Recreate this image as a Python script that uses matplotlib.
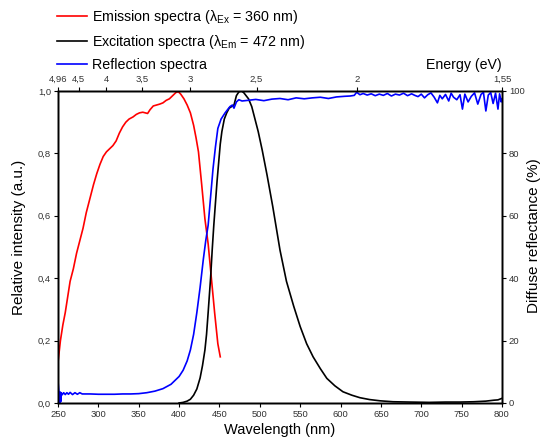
import numpy as np
import matplotlib.pyplot as plt

plt.rcParams['font.family'] = ['Liberation Sans', 'DejaVu Sans']
plt.rcParams['mathtext.fontset'] = 'custom'
plt.rcParams['mathtext.rm'] = 'Liberation Sans'

# emission spectrum (lambda_ex = 360 nm), relative intensity
em_wl = [250, 253, 256, 259, 262, 265, 269, 273, 277, 281, 285, 290, 294, 298, 302,
         306, 310, 314, 318, 322, 326, 330, 334, 338, 343, 347, 351, 355, 358, 361,
         364, 368, 372, 376, 380, 384, 388, 392, 396, 399, 402, 406, 410, 414, 418,
         421, 424, 428, 432, 436, 440, 444, 448, 451]
em_int = [0.13, 0.20, 0.25, 0.29, 0.34, 0.39, 0.43, 0.48, 0.52, 0.56, 0.61, 0.66, 0.70, 0.735, 0.765,
          0.79, 0.805, 0.815, 0.825, 0.84, 0.865, 0.885, 0.90, 0.91, 0.917, 0.925, 0.93, 0.932, 0.93, 0.928,
          0.94, 0.952, 0.955, 0.958, 0.962, 0.97, 0.975, 0.985, 0.995, 0.998, 0.99, 0.975, 0.955, 0.93, 0.89,
          0.85, 0.805, 0.70, 0.59, 0.51, 0.40, 0.29, 0.19, 0.148]

# excitation spectrum (lambda_em = 472 nm), relative intensity
ex_wl = [400, 405, 410, 414, 418, 422, 426, 429, 432, 434, 436, 439, 441, 443, 445,
         447, 449, 451, 453, 456, 459, 462, 465, 468, 471, 474, 477, 480, 483, 486,
         490, 494, 498, 503, 509, 516, 525, 533, 542, 550, 558, 566, 575, 583, 593,
         603, 614, 624, 636, 649, 665, 686, 710, 730, 748, 765, 780, 790, 795, 800]
ex_int = [0.0, 0.002, 0.006, 0.012, 0.025, 0.045, 0.08, 0.12, 0.17, 0.22, 0.29, 0.40, 0.49, 0.57, 0.64,
          0.71, 0.77, 0.83, 0.87, 0.91, 0.93, 0.945, 0.95, 0.955, 0.985, 0.997, 1.0, 0.995, 0.985, 0.975,
          0.95, 0.91, 0.87, 0.81, 0.73, 0.63, 0.49, 0.39, 0.31, 0.245, 0.19, 0.148, 0.11, 0.079, 0.055,
          0.036, 0.025, 0.017, 0.011, 0.007, 0.004, 0.003, 0.002, 0.003, 0.003, 0.004, 0.006, 0.009, 0.01, 0.015]

# reflection spectrum, diffuse reflectance (%)
rf_wl = [250, 251, 252, 252.5, 253, 253.5, 254, 255, 257, 259, 261, 263, 265, 268, 271,
         274, 277, 280, 290, 300, 310, 320, 330, 340, 350, 360, 370, 380, 390, 400,
         405, 410, 414, 418, 422, 426, 430, 433, 436, 439, 442, 445, 448, 452, 457,
         463, 466, 468, 471, 474, 478, 485, 495, 505, 515, 525, 535, 545, 555, 565,
         575, 585, 595, 605, 612, 617, 620, 624, 628, 633, 638, 643, 648, 653, 658,
         663, 668, 673, 678, 683, 688, 692, 696, 700, 704, 708, 712, 716, 720, 723,
         726, 730, 734, 737, 740, 744, 748, 751, 754, 758, 762, 766, 770, 774, 777,
         780, 783, 786, 789, 792, 795, 797, 799, 800]
rf_ref = [7.0, 4.0, 2.5, 0.2, 3.5, 0.5, 3.2, 2.6, 3.3, 2.7, 3.3, 2.8, 3.4, 2.7, 3.3,
          2.8, 3.3, 2.9, 2.9, 2.8, 2.8, 2.8, 2.9, 2.9, 3.0, 3.3, 3.8, 4.6, 6.0, 8.5,
          10.5, 13.5, 17.0, 22.0, 29.0, 37.0, 46.0, 52.0, 57.0, 66.0, 75.0, 82.0, 88.0, 91.0, 93.0,
          95.0, 95.5, 94.5, 96.5, 97.2, 96.8, 97.0, 97.3, 96.9, 97.4, 97.6, 97.2, 97.8, 97.5, 97.8,
          98.0, 97.6, 98.1, 98.3, 98.4, 98.6, 99.6, 98.8, 99.2, 98.7, 99.1, 98.5, 99.0, 98.6, 99.2,
          98.4, 99.0, 98.7, 99.3, 98.5, 99.1, 98.6, 98.2, 99.0, 97.8, 98.8, 99.4, 98.0, 96.2, 98.6,
          97.5, 98.9, 96.8, 99.3, 98.0, 97.2, 98.8, 94.2, 99.0, 96.5, 98.3, 99.4, 95.8, 98.9, 99.6,
          93.6, 98.7, 99.5, 96.0, 99.3, 94.2, 99.1, 96.5, 97.5]

x_ticks = [250, 300, 350, 400, 450, 500, 550, 600, 650, 700, 750, 800]
y_ticks = [0.0, 0.2, 0.4, 0.6, 0.8, 1.0]
r_ticks = [0, 20, 40, 60, 80, 100]
energy_ticks = [4.96, 4.5, 4, 3.5, 3, 2.5, 2, 1.55]
energy_labels = ['4,96', '4,5', '4', '3,5', '3', '2,5', '2', '1,55']

fig = plt.figure(figsize=(5.41, 4.41), dpi=100)
ax = fig.add_axes([58 / 541, 38 / 441, 444 / 541, 312 / 441])
ax_r = ax.twinx()
ax_t = ax.twiny()

l1, = ax.plot(em_wl, em_int, color='#ff0000', lw=1.2)
l2, = ax.plot(ex_wl, ex_int, color='black', lw=1.2)
l3, = ax_r.plot(rf_wl, rf_ref, color='#0000ff', lw=1.2)

ax.set_xlim(250, 800)
ax.set_ylim(0, 1.0)
ax_r.set_ylim(0, 100)
ax_t.set_xlim(250, 800)

tick_col = '#333333'
ax.set_xticks(x_ticks)
ax.set_xticklabels([str(v) for v in x_ticks])
ax.set_yticks(y_ticks)
ax.set_yticklabels([f'{v:.1f}'.replace('.', ',') for v in y_ticks])
ax_r.set_yticks(r_ticks)
ax_r.set_yticklabels([str(v) for v in r_ticks])
ax_t.set_xticks([1240 / e for e in energy_ticks])
ax_t.set_xticklabels(energy_labels)

for a in (ax, ax_r, ax_t):
    a.tick_params(direction='out', length=3, width=0.8, labelsize=6.8,
                  labelcolor=tick_col, pad=2)
    for s in a.spines.values():
        s.set_linewidth(1.0)

ax.set_xlabel('Wavelength (nm)', fontsize=10.5, labelpad=3)
# y labels sit a little above the axes centre, as in the original
fig.text(19 / 541, 1 - 237 / 441, 'Relative intensity (a.u.)', fontsize=11,
         rotation=90, ha='center', va='center')
fig.text(534 / 541, 1 - 236 / 441, 'Diffuse reflectance (%)', fontsize=11,
         rotation=90, ha='center', va='center')
fig.text(502 / 541, 1 - 65 / 441, 'Energy (eV)', fontsize=10.2, ha='right', va='center')

fig.legend([l1, l2, l3],
           ['Emission spectra (λ$_{\\mathrm{Ex}}$ = 360 nm)',
            'Excitation spectra (λ$_{\\mathrm{Em}}$ = 472 nm)',
            'Reflection spectra'],
           loc='upper left', bbox_to_anchor=(51 / 541, 1 - 2 / 441),
           frameon=False, fontsize=10.3, handlelength=2.1, handletextpad=0.4,
           labelspacing=0.5, borderaxespad=0)

fig.savefig('out.png', dpi=100)
